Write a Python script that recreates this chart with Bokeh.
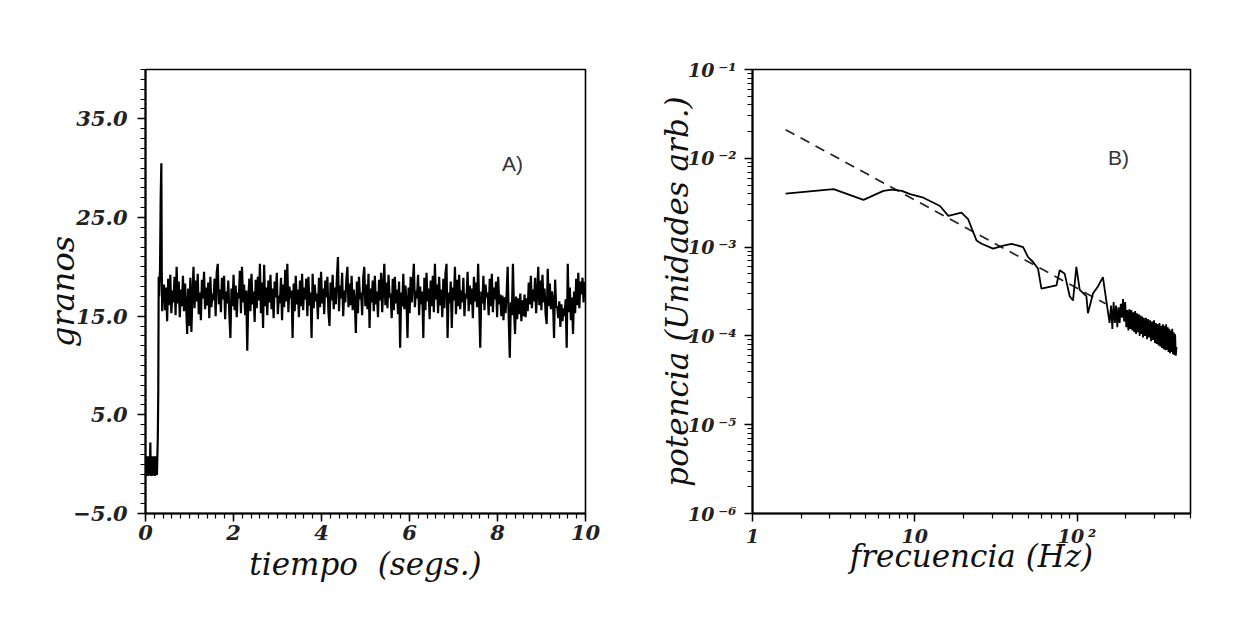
import numpy as np
from bokeh.plotting import figure
from bokeh.layouts import row
from bokeh.models import Range1d, FixedTicker, CustomJSTickFormatter, Label
from bokeh.embed import file_html
from bokeh.resources import INLINE

# ---------------- data: panel A (grain count vs time) ----------------
g_start = [-1.0, 0.8, -1.2, 0.7, -1.1, 0.8, -1.2, 0.8, -1.0, 0.7, -1.1, 2.2, -1.2, 0.8,
           -1.1, 0.7, -1.2, 0.8, -1.0, 0.8, -1.1, 0.7, -1.2, 0.8, -1.0, 0.8, -1.1, 0.8]
t_rise = [0.28, 0.29, 0.30, 0.31, 0.33, 0.345, 0.36, 0.37, 0.38, 0.39, 0.40]
g_rise = [2.8, 7.2, 19.0, 17.0, 19.8, 27.0, 30.5, 19.5, 15.5, 17.5, 16.6]
g_noise = [
    18.2, 15.6, 17.9, 14.5, 18.8, 16.1, 19.2, 15.3, 17.6, 16.4, 19.0, 15.1, 20.0, 16.3, 18.5, 14.9, 17.7, 16.0, 19.1, 15.5,
    18.3, 16.2, 13.2, 17.8, 14.0, 18.9, 13.4, 17.2, 20.0, 15.8, 18.6, 16.5, 19.3, 15.2, 17.4, 14.6, 18.7, 16.8, 19.5, 15.7,
    17.9, 16.1, 18.4, 14.8, 19.0, 15.9, 17.3, 16.6, 18.8, 15.0, 19.4, 20.3, 16.2, 17.7, 15.4, 18.9, 16.7, 19.1, 14.7, 17.5,
    16.3, 18.6, 15.2, 12.8, 17.8, 16.0, 19.2, 15.6, 18.1, 14.9, 17.4, 16.8, 19.6, 15.3, 20.0, 16.4, 18.2, 15.1, 17.6, 11.5,
    16.9, 18.8, 15.5, 19.3, 16.2, 17.5, 14.4, 18.7, 15.8, 19.0, 16.6, 20.3, 15.3, 18.4, 13.8, 20.2, 16.0, 17.9, 15.1, 18.6,
    16.4, 19.2, 15.7, 17.8, 14.8, 18.5, 16.9, 19.4, 15.2, 17.1, 16.3, 18.9, 14.6, 18.2, 15.9, 19.7, 16.5, 20.3, 15.4, 18.0,
    16.8, 17.6, 12.8, 18.3, 15.5, 19.1, 16.2, 17.7, 14.9, 18.6, 16.0, 19.3, 15.6, 17.9, 16.7, 18.8, 15.0, 19.0, 16.1, 17.4,
    12.8, 19.3, 15.8, 18.2, 16.5, 17.3, 14.7, 18.9, 15.9, 19.5, 16.3, 17.8, 15.2, 18.6, 16.9, 19.0, 15.4, 14.0, 18.4, 16.6,
    19.2, 15.7, 17.9, 16.2, 18.8, 21.0, 15.5, 18.1, 16.8, 19.4, 15.0, 17.6, 16.4, 18.7, 20.0, 15.9, 18.3, 16.1, 19.1, 15.6,
    17.7, 16.5, 13.3, 18.5, 15.3, 19.0, 16.7, 17.4, 15.1, 18.9, 20.0, 16.0, 18.2, 15.7, 19.3, 13.8, 17.8, 16.4, 18.6, 15.5,
    19.1, 16.2, 17.5, 14.9, 18.7, 16.6, 19.4, 15.4, 17.9, 20.3, 16.1, 18.4, 15.8, 19.2, 16.9, 17.3, 14.8, 18.8, 15.6, 19.0,
    16.3, 17.7, 15.2, 18.5, 11.8, 17.4, 16.0, 19.3, 15.7, 18.1, 16.6, 12.8, 17.9, 15.3, 19.0, 16.4, 18.3, 20.3, 15.9, 17.6,
    16.8, 19.2, 15.1, 18.0, 16.2, 17.5, 12.8, 18.9, 15.6, 19.4, 16.5, 17.8, 14.7, 18.6, 16.0, 19.1, 15.4, 20.3, 16.7, 18.2,
    15.3, 19.0, 16.1, 17.7, 14.9, 18.8, 15.8, 19.3, 20.3, 12.8, 17.4, 16.3, 18.5, 13.8, 17.9, 16.6, 20.0, 15.2, 18.7, 16.0,
    19.2, 15.7, 17.6, 16.4, 18.9, 15.0, 17.3, 16.8, 19.5, 15.5, 18.1, 16.2, 17.8, 14.8, 19.0, 16.5, 18.4, 15.9, 20.3, 16.1,
    11.8, 17.5, 16.3, 19.1, 15.6, 18.2, 16.9, 17.4, 15.1, 18.8, 16.0, 19.3, 15.4, 17.9, 16.7, 18.5, 14.9, 19.0, 16.2, 17.2,
    15.0, 17.1, 14.6, 16.9, 15.3, 17.2, 20.0, 14.8, 10.8, 16.4, 15.1, 20.3, 15.7, 13.2, 17.0, 14.7, 16.8, 15.2, 17.3, 14.5,
    16.6, 15.0, 17.2, 14.9, 16.8, 15.5, 18.4, 16.2, 19.1, 15.8, 17.7, 16.5, 18.9, 15.3, 17.4, 20.0, 16.1, 18.6, 15.6, 19.2,
    16.4, 17.8, 15.2, 14.2, 19.8, 16.0, 18.3, 15.7, 17.5, 16.6, 12.8, 18.7, 15.9, 16.0, 14.8, 16.5, 13.9, 16.2, 14.5, 15.8,
    15.0, 16.7, 11.8, 20.3, 15.4, 17.9, 14.6, 16.9, 13.2, 17.5, 15.3, 18.8, 16.1, 19.4, 15.8, 18.5, 17.2, 18.9, 16.4, 18.5,
]
x_ticks_a = [0, 2, 4, 6, 8, 10]
y_ticks_a = [-5, 5, 15, 25, 35]

# ---------------- data: panel B (power spectrum) ----------------
freq = [1.6, 3.16, 4.83, 6.41, 7.22, 8.32, 9.35, 11.3, 14.3, 16.1, 19.4, 21.3, 24.0, 25.8,
        30.4, 35.1, 39.5, 46.5, 49.9, 53.6, 57.5, 60.3, 74.6, 78.2, 83.9, 90.1, 94.4, 99.0,
        103.8, 114.1, 116.7, 125.3, 134.4, 144.3, 151.4, 158.6,
        162, 165, 168, 171, 174, 177, 180, 183, 186, 189, 192, 195, 198, 201, 204, 207,
        210, 213, 216, 219, 222, 225, 228, 231, 234, 237, 240, 243, 246, 249, 252, 255,
        258, 262, 266, 270, 274, 278, 282, 286, 290, 294, 298, 302, 306, 310, 314, 318,
        322, 326, 330, 334, 338, 342, 346, 350, 354, 358, 362, 366, 370, 374, 378, 382,
        386, 390, 394, 398, 402, 406, 410]
power = [4.0e-3, 4.5e-3, 3.4e-3, 4.3e-3, 4.45e-3, 4.3e-3, 3.95e-3, 3.6e-3, 2.9e-3, 2.25e-3,
         2.45e-3, 2.07e-3, 1.19e-3, 1.09e-3, 9.6e-4, 1.04e-3, 1.09e-3, 1.0e-3, 7.7e-4, 6.8e-4,
         5.7e-4, 3.4e-4, 3.7e-4, 5.5e-4, 5.0e-4, 2.8e-4, 2.5e-4, 6.0e-4, 3.3e-4, 2.8e-4,
         1.8e-4, 3.0e-4, 3.6e-4, 4.6e-4, 2.5e-4, 1.4e-4,
         2.2e-4, 1.2e-4, 2.4e-4, 1.4e-4, 2.2e-4, 1.25e-4, 2.1e-4, 1.4e-4, 2.3e-4, 1.6e-4,
         2.6e-4, 1.45e-4, 2.4e-4, 1.25e-4, 1.95e-4, 1.15e-4, 2.0e-4, 1.2e-4, 1.95e-4, 1.15e-4,
         1.85e-4, 1.1e-4, 1.9e-4, 1.05e-4, 1.8e-4, 1.1e-4, 1.75e-4, 1.0e-4, 1.7e-4, 1.05e-4,
         1.65e-4, 9.6e-5, 1.6e-4, 1.0e-4, 1.6e-4, 9.2e-5, 1.55e-4, 9.6e-5, 1.5e-4, 8.7e-5,
         1.45e-4, 9.0e-5, 1.5e-4, 8.3e-5, 1.4e-4, 8.1e-5, 1.35e-4, 7.8e-5, 1.4e-4, 7.6e-5,
         1.3e-4, 7.3e-5, 1.35e-4, 7.1e-5, 1.3e-4, 6.9e-5, 1.35e-4, 7.0e-5, 1.25e-4, 6.6e-5,
         1.2e-4, 6.4e-5, 1.15e-4, 6.6e-5, 1.2e-4, 6.2e-5, 1.1e-4, 6.1e-5, 1.05e-4, 6.0e-5,
         7.5e-5]
fit_freq = [1.6, 150.0]
fit_power = [2.1e-2, 2.3e-4]
x_ticks_b = [1, 10, 100]
y_ticks_b = [1e-6, 1e-5, 1e-4, 1e-3, 1e-2, 1e-1]

# ---------------- build ----------------
t_start = list(np.linspace(0.0, 0.27, len(g_start)))
t_noise = list(np.linspace(0.42, 9.98, len(g_noise)))
t_all = t_start + t_rise + t_noise
g_all = g_start + g_rise + g_noise

SERIF = "DejaVu Serif"


def style_axes(p):
    for ax in (p.xaxis[0], p.yaxis[0]):
        ax.axis_line_color = "black"
        ax.axis_line_width = 2
        ax.major_tick_line_color = "black"
        ax.minor_tick_line_color = "black"
        ax.major_tick_line_width = 1.5
        ax.minor_tick_line_width = 1.2
        ax.major_tick_out = 8
        ax.major_tick_in = 0
        ax.minor_tick_out = 5
        ax.minor_tick_in = 0
        ax.major_label_text_font = SERIF
        ax.major_label_text_font_style = "bold italic"
        ax.major_label_text_color = "#222222"
        ax.axis_label_text_font = SERIF
        ax.axis_label_text_font_style = "italic"
        ax.axis_label_text_color = "#111111"
    p.grid.visible = False
    p.outline_line_color = "black"
    p.outline_line_width = 1.6
    p.background_fill_color = "white"
    p.border_fill_color = "white"


# Panel A
pa = figure(width=618, height=600, output_backend="svg", toolbar_location=None,
            x_range=Range1d(0, 10), y_range=Range1d(-5, 40),
            min_border_left=145, min_border_right=33, min_border_top=63, min_border_bottom=87)
style_axes(pa)
pa.xaxis.ticker = FixedTicker(ticks=x_ticks_a, minor_ticks=[k * 0.2 for k in range(51)])
pa.yaxis.ticker = FixedTicker(ticks=y_ticks_a, minor_ticks=list(range(-5, 41)))
pa.yaxis.formatter = CustomJSTickFormatter(code="return tick.toFixed(1).replace('-', '\\u2212');")
pa.xaxis.major_label_text_font_size = "21px"
pa.yaxis.major_label_text_font_size = "21px"
pa.xaxis.major_label_standoff = 3
pa.yaxis.major_label_standoff = 10
pa.xaxis.axis_label = "tiempo\u00a0\u00a0(segs.)"
pa.yaxis.axis_label = "granos"
pa.xaxis.axis_label_text_font_size = "31px"
pa.yaxis.axis_label_text_font_size = "32px"
pa.xaxis.axis_label_standoff = 3
pa.yaxis.axis_label_standoff = -12
pa.line(t_all, g_all, line_color="black", line_width=2.2)
pa.add_layout(Label(x=8.34, y=30.5, text="A)", text_font="Liberation Sans", text_font_size="21px",
                    text_color="#333333", text_align="center", text_baseline="middle"))

# Panel B
pb = figure(width=606, height=600, output_backend="svg", toolbar_location=None,
            x_axis_type="log", y_axis_type="log",
            x_range=Range1d(1, 500), y_range=Range1d(1e-6, 1e-1),
            min_border_left=134, min_border_right=34, min_border_top=69, min_border_bottom=83)
style_axes(pb)
xminor = [m * 10 ** e for e in range(0, 3) for m in range(2, 10) if m * 10 ** e <= 500]
yminor = [m * 10.0 ** e for e in range(-6, -1) for m in range(2, 10)]
pb.xaxis.ticker = FixedTicker(ticks=x_ticks_b, minor_ticks=xminor)
pb.yaxis.ticker = FixedTicker(ticks=y_ticks_b, minor_ticks=yminor)
sup_code = """
const sup = {'-':'\\u207b','0':'\\u2070','1':'\\u00b9','2':'\\u00b2','3':'\\u00b3','4':'\\u2074',
             '5':'\\u2075','6':'\\u2076','7':'\\u2077','8':'\\u2078','9':'\\u2079'};
const e = Math.round(Math.log10(tick));
if (e == 0) return '1';
if (e == 1) return '10';
return '10\\u2009' + String(e).split('').map(c => sup[c]).join('');
"""
pb.xaxis.formatter = CustomJSTickFormatter(code=sup_code)
pb.yaxis.formatter = CustomJSTickFormatter(code=sup_code)
pb.xaxis.major_label_text_font_size = "19px"
pb.yaxis.major_label_text_font_size = "19px"
pb.xaxis.major_label_standoff = 3
pb.yaxis.major_label_standoff = 8
pb.xaxis.axis_label = "frecuencia (Hz)"
pb.yaxis.axis_label = "potencia (Unidades arb.)"
pb.xaxis.axis_label_text_font_size = "31px"
pb.yaxis.axis_label_text_font_size = "31px"
pb.xaxis.axis_label_standoff = -12
pb.yaxis.axis_label_standoff = -10
pb.line(fit_freq, fit_power, line_color="#222222", line_width=1.7, line_dash="10 7")
pb.line(freq, power, line_color="black", line_width=1.8)
pb.add_layout(Label(x=180, y=1.03e-2, text="B)", text_font="Liberation Sans", text_font_size="21px",
                    text_color="#333333", text_align="center", text_baseline="middle"))

layout = row(pa, pb)
open("out.html", "w").write(file_html(layout, INLINE))
